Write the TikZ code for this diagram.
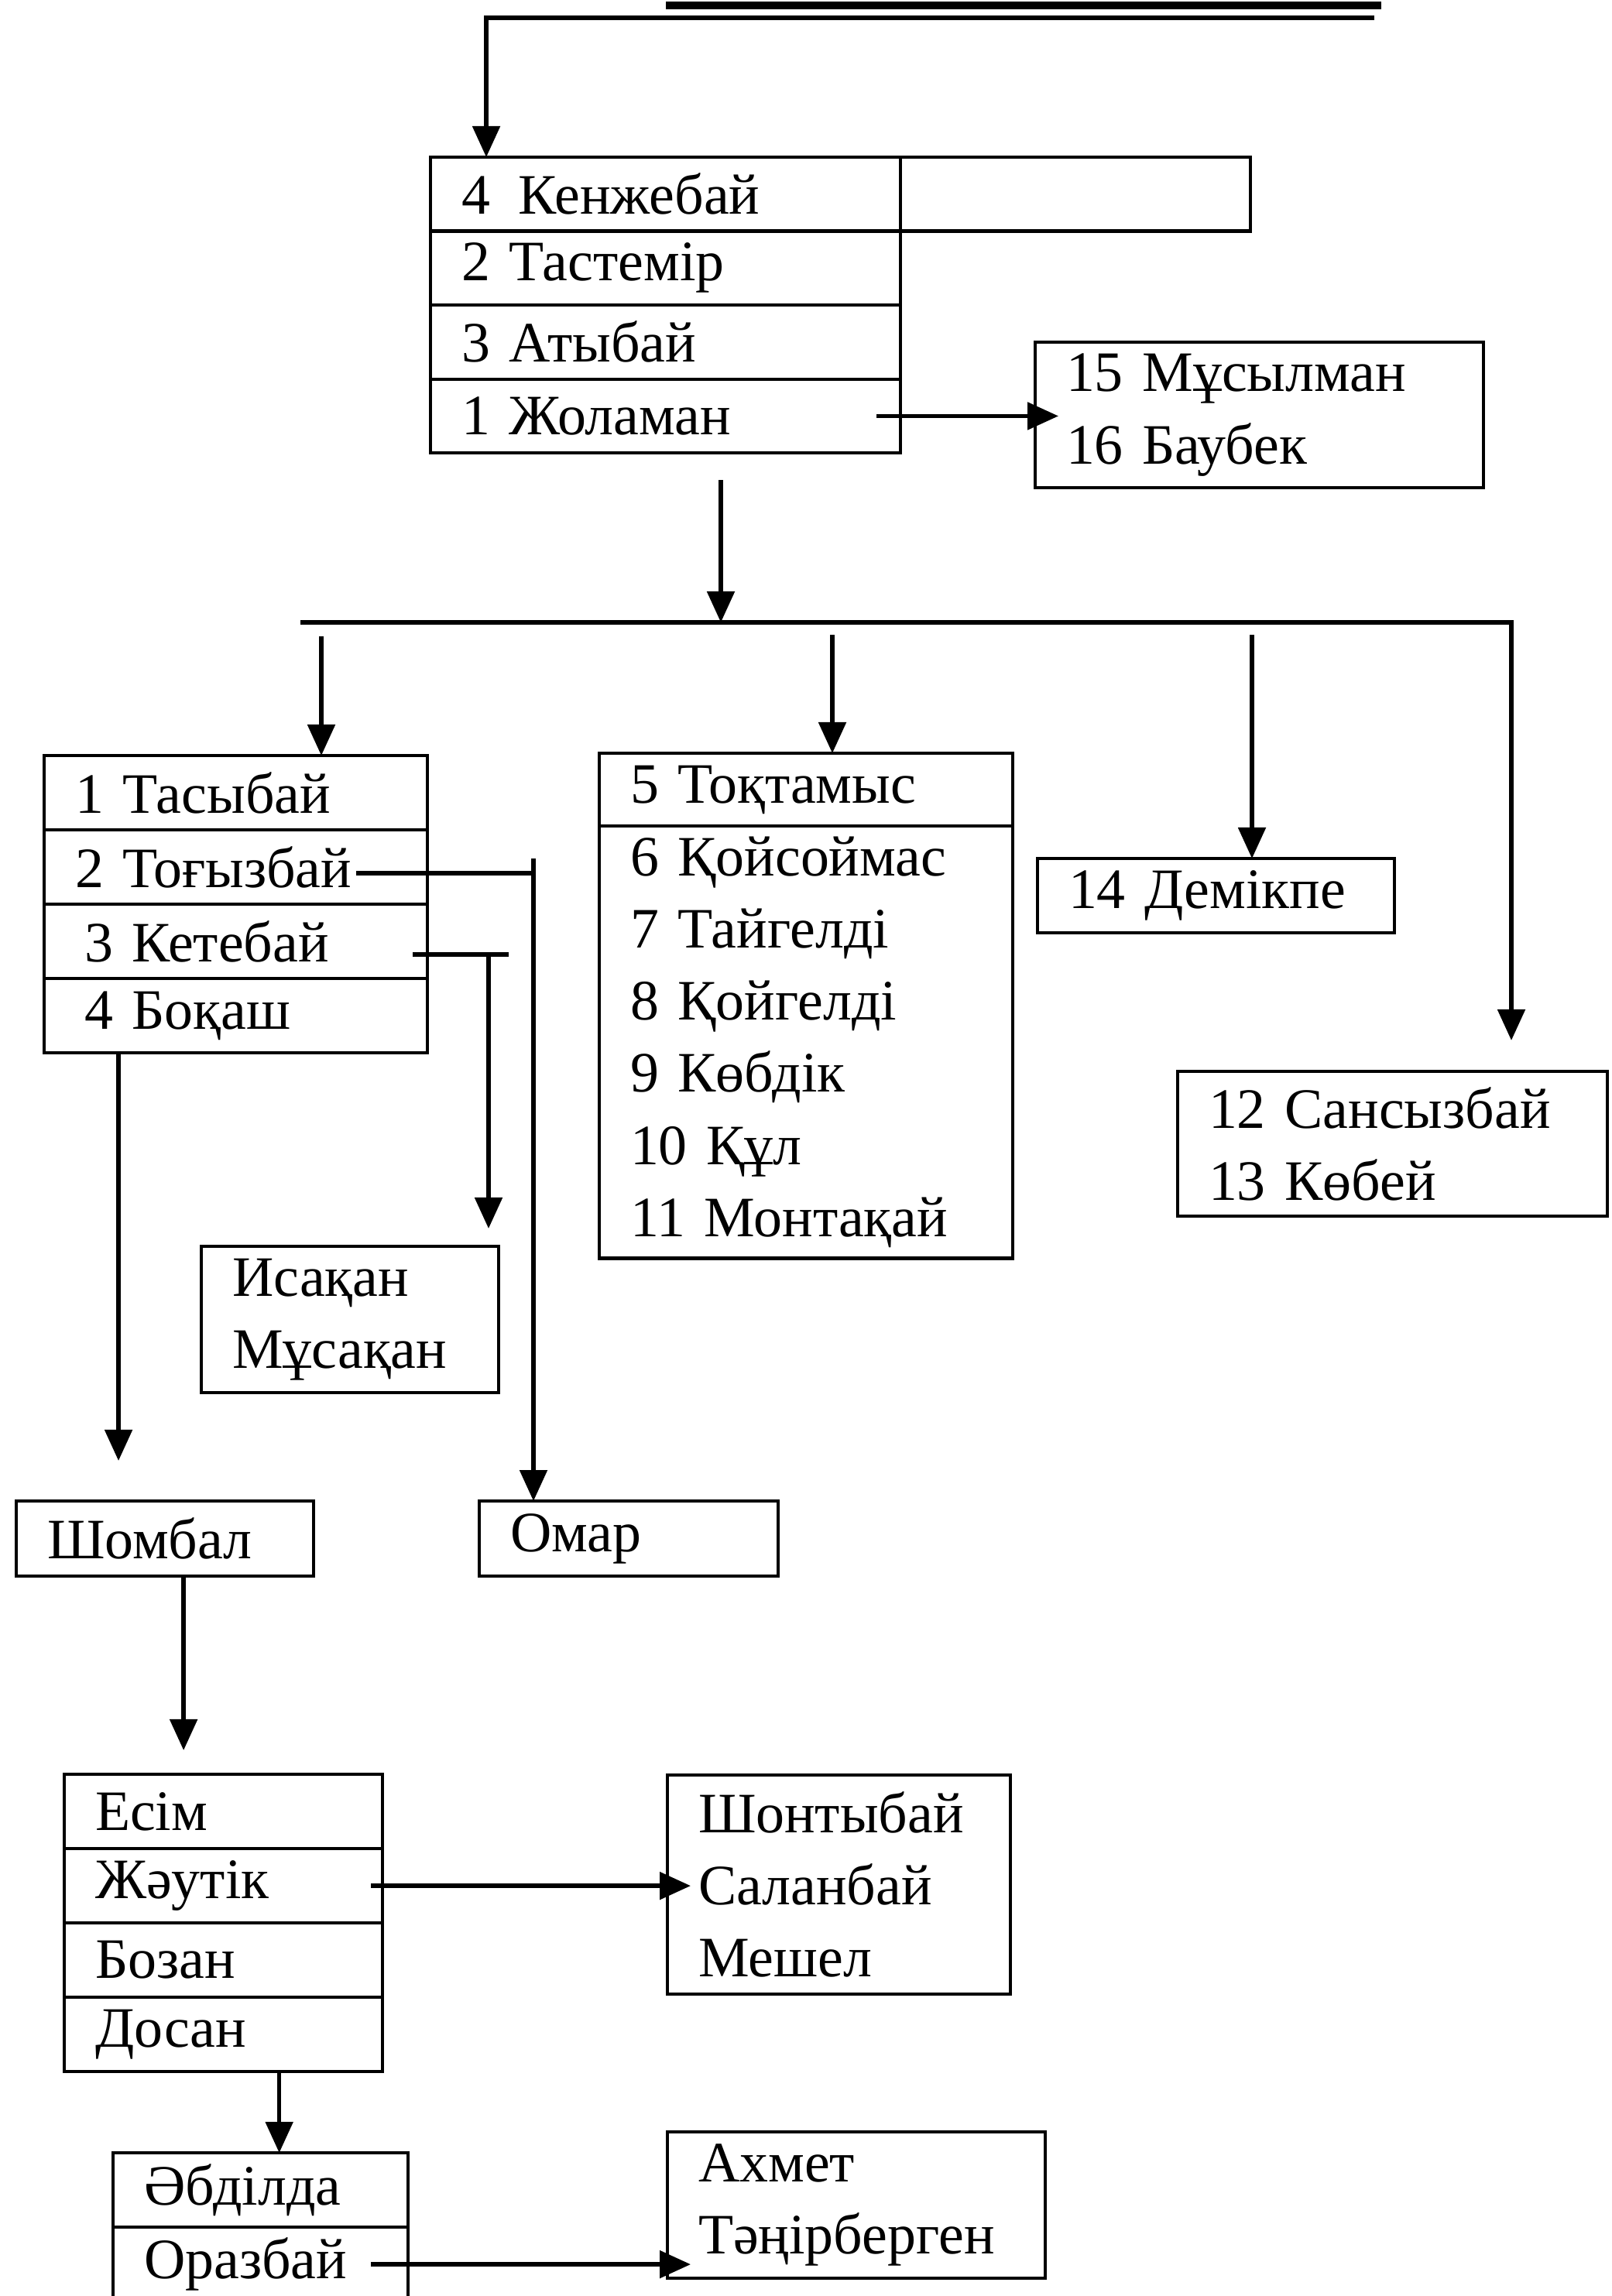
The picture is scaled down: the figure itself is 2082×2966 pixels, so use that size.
\documentclass[tikz,border=0pt]{standalone}
\usepackage{fontspec}
\setmainfont{Liberation Serif}
\usetikzlibrary{arrows.meta, positioning}

\begin{document}
\begin{tikzpicture}[
    x=0.01cm, y=-0.01cm,
    cell/.style = {draw, line width=1.2pt, anchor=north west, inner xsep=0.4cm, inner ysep=0pt,
                   outer sep=0pt, align=left, font=\fontsize{21}{26.5}\selectfont},
    row/.style  = {cell, minimum height=0.955cm},
    arr/.style  = {-{Triangle[length=0.4cm, width=0.35cm]}, line width=1.5pt},
    into/.style = {arr, shorten >=-0.3cm},
    wire/.style = {line width=1.5pt},
]
\useasboundingbox (0,0) rectangle (2082,2966);

% --- Жоғарғы сызық ---
\coordinate (topL) at (860,7);
\coordinate (topR) at (1784,7);
\coordinate (src)  at (1775,23);
\draw[line width=3pt] (topL) -- (topR);

% --- Кенжебай тобы ---
\node[row, text width=5.27cm] (k4) at (556,203) {4\enspace Кенжебай};
\node[cell, minimum width=4.51cm, minimum height=0.955cm, right=0pt of k4] (kx) {};
\node[row, text width=5.27cm, below=0pt of k4] (k2) {2 Тастемір};
\node[row, text width=5.27cm, below=0pt of k2] (k3) {3 Атыбай};
\node[row, text width=5.27cm, below=0pt of k3] (k1) {1 Жоламан};
\node[cell, text width=4.99cm, minimum height=1.88cm] (m) at (1337,442) {15 Мұсылман\\16 Баубек};

% --- Жоламан ұлдары ---
\node[row, text width=4.15cm, minimum height=0.96cm] (t1) at (57,976) {1 Тасыбай};
\node[row, text width=4.15cm, minimum height=0.96cm, below=0pt of t1] (t2) {2 Тоғызбай};
\node[row, text width=4.15cm, minimum height=0.96cm, below=0pt of t2] (t3) {\hspace*{0.12cm}3 Кетебай};
\node[row, text width=4.15cm, minimum height=0.96cm, below=0pt of t3] (t4) {\hspace*{0.12cm}4 Боқаш};

\node[cell, text width=4.54cm, minimum height=0.94cm] (s5) at (774,973) {5 Тоқтамыс};
\node[cell, text width=4.54cm, minimum height=5.58cm, below=0pt of s5] (s6)
    {6 Қойсоймас\\7 Тайгелді\\8 Қойгелді\\9 Көбдік\\10 Құл\\11 Монтақай};

\node[row, text width=3.81cm, minimum height=0.96cm] (d14) at (1340,1109) {14 Демікпе};
\node[cell, text width=4.75cm, minimum height=1.87cm] (s12) at (1521,1384) {12 Сансызбай\\13 Көбей};

% --- Немерелер ---
\node[cell, text width=3.04cm, minimum height=1.89cm] (isa) at (260,1610) {Исақан\\Мұсақан};
\node[row, text width=3.04cm, minimum height=0.97cm] (shom) at (21,1939) {Шомбал};
\node[row, text width=3.06cm, minimum height=0.97cm] (omar) at (619,1939) {Омар};

% --- Шомбал тармағы ---
\node[row, text width=3.31cm, minimum height=0.96cm] (e1) at (83,2292) {Есім};
\node[row, text width=3.31cm, minimum height=0.96cm, below=0pt of e1] (e2) {Жәутік};
\node[row, text width=3.31cm, minimum height=0.96cm, below=0pt of e2] (e3) {Бозан};
\node[row, text width=3.31cm, minimum height=0.96cm, below=0pt of e3] (e4) {Досан};
\node[cell, text width=3.63cm, minimum height=2.83cm] (sh) at (862,2293) {Шонтыбай\\Саланбай\\Мешел};

\node[row, text width=3.01cm, minimum height=0.96cm] (a1) at (146,2781) {Әбділда};
\node[row, text width=3.01cm, minimum height=0.96cm, below=0pt of a1] (a2) {Оразбай};
\node[cell, text width=4.08cm, minimum height=1.89cm] (ax) at (862,2754) {Ахмет\\Тәңірберген};

% --- Нүктелер ---
\coordinate (jol)  at ([xshift=-0.31cm]k1.east);
\coordinate (down) at (931,620);
\coordinate (busL) at (388,804);
\coordinate (busR) at (1952,804);
\coordinate (b1)   at (415,822);
\coordinate (b2)   at (1075,820);
\coordinate (b3)   at (1617,820);
\coordinate (t2in) at (460,1128);
\coordinate (tj)   at (689,1109);
\coordinate (t3in) at (533,1233);
\coordinate (kj)   at (631,1233);
\coordinate (kend) at (657,1233);
\coordinate (bk)   at ([xshift=0.96cm]t4.south west);
\coordinate (sb)   at ([xshift=0.24cm]shom.south);
\coordinate (ds)   at ([xshift=0.72cm]e4.south);
\coordinate (zh)   at ([xshift=-0.15cm]e2.east);
\coordinate (oz)   at ([xshift=-0.48cm]a2.east);

% --- Бағыттауыштар ---
\draw[arr] (src) -| ([xshift=0.72cm]k4.north west);
\draw[into] (jol) -- (jol -| m.west);
\draw[arr] (down) -- (down |- busL);
\draw[arr] (busL) -| ([yshift=0.4cm]s12.north -| busR);
\draw[arr] (b1) -- (b1 |- t1.north);
\draw[arr] (b2) -- (b2 |- s5.north);
\draw[arr] (b3) -- (b3 |- d14.north);

\draw[wire] (t2in) -- (t2in -| tj);
\draw[arr] (tj) -- (tj |- omar.north);
\draw[wire] (t3in) -- (kend);
\draw[arr] (kj) -- ([yshift=0.23cm]isa.north -| kj);
\draw[arr] (bk) -- ([yshift=0.52cm]shom.north -| bk);
\draw[arr] (sb) -- ([yshift=0.31cm]e1.north -| sb);

\draw[into] (zh) -- (zh -| sh.west);
\draw[arr] (ds) -- (ds |- a1.north);
\draw[into] (oz) -- (oz -| ax.west);

\end{tikzpicture}
\end{document}
